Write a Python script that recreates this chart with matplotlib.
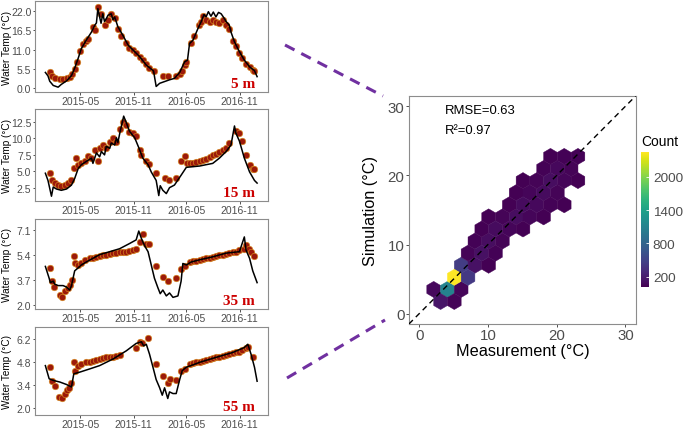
import numpy as np
import pandas as pd
import matplotlib
matplotlib.use('Agg')
import matplotlib.pyplot as plt
import matplotlib.dates as mdates
from matplotlib.lines import Line2D
from matplotlib.ticker import FixedLocator, FormatStrFormatter

plt.rcParams['font.family'] = ['Liberation Sans', 'DejaVu Sans']

# 1. Time series data
# ---- 5 m ----
sim5_dates = ['2015-01-01', '2015-01-10', '2015-01-16', '2015-01-28', '2015-02-14', '2015-02-25',
              '2015-03-15', '2015-04-01', '2015-04-12', '2015-04-24', '2015-05-05', '2015-05-22',
              '2015-06-09', '2015-06-20', '2015-06-26', '2015-07-01', '2015-07-07', '2015-07-12',
              '2015-07-18', '2015-07-24', '2015-07-30', '2015-08-05', '2015-08-16', '2015-08-22',
              '2015-08-28', '2015-09-08', '2015-09-25', '2015-10-13', '2015-10-30', '2015-11-22',
              '2015-12-15', '2016-01-09', '2016-01-18', '2016-01-30', '2016-02-16', '2016-03-04',
              '2016-03-21', '2016-04-08', '2016-04-25', '2016-05-05', '2016-05-12', '2016-05-24',
              '2016-06-10', '2016-06-21', '2016-07-01', '2016-07-08', '2016-07-16', '2016-07-25',
              '2016-08-02', '2016-08-11', '2016-08-20', '2016-08-29', '2016-09-08', '2016-09-15',
              '2016-09-26', '2016-10-02', '2016-10-14', '2016-10-31', '2016-11-17', '2016-12-05',
              '2016-12-22', '2016-12-31']
sim5 = [4.5, 3.5, 2.0, 0.8, 0.3, 1.1,
        2.1, 3.6, 5.7, 8.5, 11.3, 13.7,
        16.0, 17.9, 18.6, 22.7, 20.3, 18.5,
        21.2, 19.0, 19.8, 20.8, 21.2, 19.5,
        20.3, 17.5, 15.1, 12.3, 10.9, 9.0,
        6.6, 4.9, 0.5, 1.4, 1.9, 2.4,
        2.8, 4.5, 7.5, 8.0, 12.7, 13.7,
        17.0, 18.9, 21.0, 20.3, 21.8, 20.5,
        21.7, 20.3, 21.6, 21.2, 20.0, 19.0,
        18.0, 16.0, 13.2, 10.4, 8.0, 6.1,
        5.0, 3.3]
obs5_dates = ['2015-01-16', '2015-01-25', '2015-02-02', '2015-02-20', '2015-03-03', '2015-03-15',
              '2015-03-26', '2015-04-04', '2015-04-12', '2015-04-20', '2015-04-29', '2015-05-11',
              '2015-05-20', '2015-05-28', '2015-06-14', '2015-06-22', '2015-07-01', '2015-07-13',
              '2015-07-24', '2015-08-05', '2015-08-16', '2015-08-28', '2015-09-08', '2015-09-20',
              '2015-10-07', '2015-10-18', '2015-10-30', '2015-11-10', '2015-11-22', '2015-12-03',
              '2015-12-15', '2015-12-26', '2016-01-12', '2016-02-10', '2016-02-27', '2016-03-27',
              '2016-04-08', '2016-04-17', '2016-04-25', '2016-05-01', '2016-05-18', '2016-05-29',
              '2016-06-13', '2016-06-21', '2016-06-29', '2016-07-08', '2016-07-20', '2016-07-31',
              '2016-08-11', '2016-08-23', '2016-09-04', '2016-09-15', '2016-09-26', '2016-10-08',
              '2016-10-19', '2016-10-29', '2016-11-09', '2016-11-23', '2016-12-05', '2016-12-16',
              '2016-12-22']
obs5 = [4.5, 3.5, 3.0, 2.5, 2.5, 2.8,
        3.2, 4.0, 5.5, 7.5, 10.5, 12.5,
        13.5, 14.0, 17.5, 16.5, 23.0, 21.0,
        18.0, 19.5, 21.0, 20.0, 17.0, 15.0,
        13.0, 11.5, 11.0, 10.0, 9.0, 8.0,
        6.8, 5.8, 4.8, 3.5, 3.5, 3.5,
        4.0, 5.0, 6.5, 7.5, 13.0, 15.0,
        18.0, 19.0, 20.5, 19.5, 19.0, 19.5,
        19.0, 18.5, 19.5, 18.0, 17.0, 13.5,
        12.0, 10.0, 8.5, 7.0, 6.0, 5.3,
        5.0]

# ---- 15 m ----
sim15_dates = ['2015-01-01', '2015-01-10', '2015-01-22', '2015-01-28', '2015-02-08', '2015-02-25',
               '2015-03-15', '2015-04-01', '2015-04-12', '2015-04-24', '2015-05-05', '2015-05-22',
               '2015-06-09', '2015-06-14', '2015-06-26', '2015-07-07', '2015-07-13', '2015-07-24',
               '2015-07-30', '2015-08-11', '2015-08-16', '2015-08-28', '2015-09-03', '2015-09-08',
               '2015-09-16', '2015-09-28', '2015-10-07', '2015-10-18', '2015-11-05', '2015-11-19',
               '2015-12-03', '2015-12-21', '2016-01-01', '2016-01-18', '2016-01-27', '2016-02-01',
               '2016-02-10', '2016-02-22', '2016-03-04', '2016-03-21', '2016-04-13', '2016-05-01',
               '2016-05-24', '2016-06-16', '2016-07-08', '2016-07-31', '2016-08-23', '2016-09-15',
               '2016-10-02', '2016-10-14', '2016-10-19', '2016-10-31', '2016-11-17', '2016-12-05',
               '2016-12-22', '2016-12-31']
sim15 = [4.7, 3.6, 1.2, 2.6, 2.3, 2.1,
         2.3, 2.9, 3.9, 5.4, 6.0, 6.5,
         7.0, 6.2, 7.8, 7.2, 8.0, 7.5,
         8.8, 8.5, 9.3, 9.0, 10.1, 9.4,
         11.1, 13.4, 12.4, 11.1, 10.1, 8.6,
         7.0, 6.0, 4.9, 3.6, 1.3, 2.8,
         2.1, 1.6, 2.5, 2.9, 4.4, 5.6,
         5.7, 5.8, 6.0, 6.2, 7.0, 8.0,
         9.0, 11.9, 10.8, 9.6, 7.0, 4.9,
         3.6, 3.2]
obs15_dates = ['2015-01-16', '2015-01-25', '2015-02-02', '2015-02-14', '2015-02-25', '2015-03-09',
               '2015-03-20', '2015-04-01', '2015-04-09', '2015-04-18', '2015-04-24', '2015-05-05',
               '2015-05-16', '2015-05-28', '2015-06-09', '2015-06-20', '2015-07-01', '2015-07-07',
               '2015-07-18', '2015-07-30', '2015-08-11', '2015-08-22', '2015-09-03', '2015-09-14',
               '2015-09-25', '2015-10-07', '2015-10-18', '2015-10-30', '2015-11-10', '2015-11-22',
               '2015-11-28', '2015-12-15', '2015-12-26', '2016-01-18', '2016-02-16', '2016-03-02',
               '2016-03-27', '2016-04-13', '2016-04-28', '2016-05-03', '2016-05-12', '2016-05-24',
               '2016-06-05', '2016-06-16', '2016-06-29', '2016-07-08', '2016-07-20', '2016-07-31',
               '2016-08-11', '2016-08-23', '2016-09-04', '2016-09-15', '2016-09-26', '2016-10-19',
               '2016-10-29', '2016-11-09', '2016-11-23', '2016-12-05', '2016-12-16', '2016-12-22']
obs15 = [4.7, 3.6, 3.2, 2.9, 2.8, 2.9,
         3.2, 3.6, 5.5, 7.0, 6.0, 6.2,
         6.5, 7.3, 7.0, 8.3, 6.5, 8.5,
         9.0, 8.5, 9.5, 10.0, 9.5, 11.5,
         12.5, 12.1, 11.0, 10.9, 10.3, 8.3,
         7.5, 6.5, 6.1, 4.7, 3.9, 3.6,
         3.9, 6.5, 7.4, 6.2, 6.2, 6.2,
         6.4, 6.5, 6.7, 6.8, 7.2, 7.5,
         7.7, 8.0, 8.3, 8.5, 9.3, 11.1,
         10.8, 9.6, 7.5, 6.0, 5.4, 5.3]

# ---- 35 m ----
sim35_dates = ['2015-01-01', '2015-01-14', '2015-01-18', '2015-01-28', '2015-02-02', '2015-02-14',
               '2015-03-03', '2015-03-15', '2015-03-26', '2015-04-01', '2015-04-12', '2015-04-24',
               '2015-05-05', '2015-05-22', '2015-06-14', '2015-07-07', '2015-08-11', '2015-09-14',
               '2015-10-18', '2015-11-10', '2015-11-19', '2015-11-28', '2015-12-09', '2015-12-21',
               '2016-01-01', '2016-01-12', '2016-01-24', '2016-02-01', '2016-02-10', '2016-02-22',
               '2016-03-04', '2016-03-16', '2016-04-02', '2016-04-13', '2016-04-19', '2016-05-01',
               '2016-05-18', '2016-06-16', '2016-07-31', '2016-09-15', '2016-10-31', '2016-11-17',
               '2016-11-23', '2016-12-05', '2016-12-16', '2016-12-31']
sim35 = [4.6, 3.8, 3.5, 3.6, 3.4, 3.3,
         3.3, 3.2, 3.0, 3.3, 4.3, 4.5,
         4.7, 4.9, 5.15, 5.4, 5.6, 5.8,
         6.15, 6.4, 7.0, 6.5, 6.0, 5.6,
         4.7, 3.8, 3.15, 2.75, 3.0, 2.6,
         2.8, 2.5, 2.6, 3.6, 4.8, 4.7,
         4.9, 5.05, 5.25, 5.5, 5.6, 6.6,
         5.7, 5.15, 4.3, 3.5]
obs35_dates = ['2015-01-16', '2015-01-25', '2015-01-30', '2015-02-20', '2015-03-01', '2015-03-09',
               '2015-03-20', '2015-03-26', '2015-04-04', '2015-04-09', '2015-04-12', '2015-04-24',
               '2015-05-05', '2015-05-16', '2015-06-03', '2015-06-14', '2015-06-26', '2015-07-07',
               '2015-07-18', '2015-07-30', '2015-08-11', '2015-08-22', '2015-09-03', '2015-09-14',
               '2015-09-25', '2015-10-07', '2015-10-18', '2015-10-30', '2015-11-10', '2015-11-22',
               '2015-12-03', '2015-12-15', '2015-12-26', '2016-01-18', '2016-02-10', '2016-02-27',
               '2016-03-27', '2016-04-13', '2016-04-25', '2016-05-12', '2016-05-24', '2016-06-05',
               '2016-06-16', '2016-06-29', '2016-07-08', '2016-07-20', '2016-07-31', '2016-08-11',
               '2016-08-23', '2016-09-04', '2016-09-15', '2016-09-26', '2016-10-08', '2016-10-19',
               '2016-10-31', '2016-11-17', '2016-11-23', '2016-12-02', '2016-12-10', '2016-12-22']
obs35 = [4.5, 3.6, 3.2, 2.65, 2.5, 2.9,
         3.15, 3.35, 3.7, 5.3, 4.8, 4.7,
         4.8, 5.05, 5.15, 5.2, 5.25, 5.3,
         5.35, 5.4, 5.45, 5.5, 5.5, 5.55,
         5.6, 5.6, 5.65, 5.7, 5.75, 6.25,
         6.8, 6.15, 6.15, 4.65, 3.9, 3.6,
         3.8, 4.4, 4.6, 4.9, 4.95, 5.0,
         5.05, 5.1, 5.15, 5.2, 5.25, 5.3,
         5.35, 5.4, 5.45, 5.5, 5.55, 5.6,
         5.7, 5.8, 6.05, 5.8, 5.6, 5.3]

# ---- 55 m ----
sim55_dates = ['2015-01-01', '2015-01-14', '2015-01-28', '2015-02-20', '2015-03-15', '2015-04-01',
               '2015-04-09', '2015-04-29', '2015-06-03', '2015-07-07', '2015-08-22', '2015-10-07',
               '2015-11-10', '2015-11-28', '2015-12-06', '2015-12-15', '2015-12-26', '2016-01-07',
               '2016-01-18', '2016-01-30', '2016-02-08', '2016-02-16', '2016-02-27', '2016-03-04',
               '2016-03-16', '2016-03-27', '2016-04-08', '2016-04-17', '2016-05-01', '2016-06-16',
               '2016-08-11', '2016-10-08', '2016-11-17', '2016-11-29', '2016-12-10', '2016-12-22',
               '2016-12-31']
sim55 = [4.6, 3.8, 3.7, 3.6, 3.45, 3.3,
         4.1, 4.2, 4.4, 4.6, 5.0, 5.5,
         5.95, 6.05, 5.8, 5.9, 5.3, 4.5,
         3.75, 3.25, 2.8, 3.25, 2.6, 3.0,
         2.9, 2.9, 3.75, 4.3, 4.5, 4.8,
         5.1, 5.4, 5.7, 5.9, 5.3, 4.5,
         3.65]
obs55_dates = ['2015-01-16', '2015-01-25', '2015-02-02', '2015-02-17', '2015-03-01', '2015-03-09',
               '2015-03-15', '2015-03-24', '2015-04-01', '2015-04-09', '2015-04-12', '2015-04-24',
               '2015-05-05', '2015-05-22', '2015-06-03', '2015-06-14', '2015-06-26', '2015-07-07',
               '2015-07-18', '2015-07-30', '2015-08-11', '2015-08-22', '2015-09-03', '2015-09-14',
               '2015-11-10', '2015-11-22', '2015-12-01', '2015-12-21', '2016-01-18', '2016-02-10',
               '2016-02-27', '2016-03-04', '2016-03-27', '2016-04-13', '2016-04-25', '2016-05-12',
               '2016-05-24', '2016-06-05', '2016-06-16', '2016-06-29', '2016-07-08', '2016-07-20',
               '2016-07-31', '2016-08-11', '2016-08-23', '2016-09-04', '2016-09-15', '2016-09-26',
               '2016-10-08', '2016-10-19', '2016-10-31', '2016-11-09', '2016-11-23', '2016-11-29',
               '2016-12-16']
obs55 = [4.5, 3.65, 3.35, 2.7, 2.6, 2.9,
         3.1, 3.25, 3.55, 4.8, 4.25, 4.6,
         4.7, 4.8, 4.85, 4.9, 4.95, 5.0,
         5.05, 5.1, 5.1, 5.15, 5.2, 5.25,
         5.7, 6.05, 5.95, 6.25, 4.7, 3.95,
         3.55, 3.8, 3.75, 4.25, 4.4, 4.7,
         4.75, 4.8, 4.85, 4.9, 4.95, 5.0,
         5.05, 5.1, 5.15, 5.2, 5.25, 5.3,
         5.35, 5.4, 5.45, 5.55, 5.7, 5.75,
         5.1]

depth_labels = ['5 m', '15 m', '35 m', '55 m']
date_ticks = ['2015-05-01', '2015-11-01', '2016-05-01', '2016-11-01']

# 2. Hexbin summary (bin centres, counts)
hex_meas = [3.1, 5.1,
            2.1, 4.1, 6.1,
            5.1, 7.1,
            6.1, 8.1, 10.1,
            7.1, 9.1, 11.1,
            8.1, 10.1, 12.1,
            9.1, 11.1, 13.1, 15.1,
            10.1, 12.1, 14.1, 16.1, 18.1,
            13.1, 15.1, 17.1, 19.1, 21.1,
            14.1, 16.1, 18.1, 20.1,
            15.1, 17.1, 19.1, 21.1, 23.1,
            18.1, 20.1, 22.1,
            19.1, 21.1, 23.1]
hex_sim = [1.75, 1.75,
           3.5, 3.5, 3.5,
           5.25, 5.25,
           7.0, 7.0, 7.0,
           8.75, 8.75, 8.75,
           10.5, 10.5, 10.5,
           12.25, 12.25, 12.25, 12.25,
           14.0, 14.0, 14.0, 14.0, 14.0,
           15.75, 15.75, 15.75, 15.75, 15.75,
           17.5, 17.5, 17.5, 17.5,
           19.25, 19.25, 19.25, 19.25, 19.25,
           21.0, 21.0, 21.0,
           22.75, 22.75, 22.75]
hex_count = [150, 40,
             60, 1100, 50,
             2450, 420,
             450, 120, 20,
             40, 110, 30,
             30, 90, 40,
             20, 80, 50, 15,
             15, 40, 90, 45, 12,
             20, 80, 60, 30, 12,
             15, 50, 80, 40,
             12, 40, 90, 45, 12,
             30, 60, 40,
             20, 30, 25]
rmse = 0.63
r2 = 0.97

# 3. Figure
fig = plt.figure(figsize=(6.85, 4.31), dpi=100)

left_rects = [[0.051, 0.784, 0.340, 0.211],
              [0.051, 0.531, 0.340, 0.214],
              [0.051, 0.280, 0.340, 0.209],
              [0.051, 0.035, 0.340, 0.204]]
ylims = [(-1.1, 24.8), (0.45, 14.5), (1.69, 7.8), (1.6, 6.95)]
yticks = [[0.0, 5.5, 11.0, 16.5, 22.0], [2.5, 5.0, 7.5, 10.0, 12.5],
          [2.0, 3.7, 5.4, 7.1], [2.0, 3.4, 4.8, 6.2]]
series = [(sim5_dates, sim5, obs5_dates, obs5),
          (sim15_dates, sim15, obs15_dates, obs15),
          (sim35_dates, sim35, obs35_dates, obs35),
          (sim55_dates, sim55, obs55_dates, obs55)]

for i, (sd, sv, od, ov) in enumerate(series):
    ax = fig.add_axes(left_rects[i])
    ax.scatter(pd.to_datetime(od), ov, s=22, c='#9c1a0a', edgecolors='#d98c1f',
               linewidths=0.45, zorder=2)
    ax.plot(pd.to_datetime(sd), sv, color='black', lw=1.1, zorder=3)
    ax.set_xlim(pd.Timestamp('2014-11-26'), pd.Timestamp('2017-02-06'))
    ax.set_ylim(*ylims[i])
    ax.set_yticks(yticks[i])
    ax.yaxis.set_major_formatter(FormatStrFormatter('%.1f'))
    ax.xaxis.set_major_locator(FixedLocator(mdates.date2num(pd.to_datetime(date_ticks))))
    ax.xaxis.set_major_formatter(mdates.DateFormatter('%Y-%m'))
    ax.tick_params(labelsize=7.5, labelcolor='#4d4d4d', color='#333333',
                   length=1.8, width=0.6, pad=0.8)
    for s in ax.spines.values():
        s.set_color('#8c8c8c')
        s.set_linewidth(0.8)
    ax.set_ylabel('Water Temp (°C)', fontsize=7.2)
    ax.yaxis.set_label_coords(-0.098, 0.5)
    ax.text(0.945, 0.06, depth_labels[i], transform=ax.transAxes, ha='right',
            va='baseline', fontsize=11, fontweight='bold',
            family='Liberation Serif', color='#cc0000')

# 4. Hexbin scatter measurement vs simulation
ax = fig.add_axes([0.597, 0.246, 0.331, 0.529])
hb = ax.hexbin(hex_meas, hex_sim, C=hex_count, reduce_C_function=np.sum,
               gridsize=(15, 9), extent=(0.1, 30.1, 0.0, 31.5), cmap='viridis',
               mincnt=1, edgecolors='face', linewidths=0.3, zorder=2)
ax.axline((0, 0), slope=1, color='black', lw=1.0, ls=(0, (4, 3)), zorder=3)
ax.set_xlim(-1.5, 31.5)
ax.set_ylim(-1.5, 31.5)
ax.set_xticks([0, 10, 20, 30])
ax.set_yticks([0, 10, 20, 30])
ax.tick_params(labelsize=10.8, labelcolor='#4d4d4d', color='#333333',
               length=2.0, width=0.6, pad=1.2)
for s in ax.spines.values():
    s.set_color('#8c8c8c')
    s.set_linewidth(0.8)
ax.set_xlabel('Measurement (°C)', fontsize=11.7)
ax.xaxis.set_label_coords(0.5, -0.082)
ax.set_ylabel('Simulation (°C)', fontsize=11.7)
ax.yaxis.set_label_coords(-0.135, 0.5)
ax.text(3.8, 29.4, f'RMSE={rmse:.2f}', fontsize=9.4, va='center')
ax.text(3.8, 26.6, f'R²={r2:.2f}', fontsize=9.4, va='center')

cax = fig.add_axes([0.936, 0.332, 0.011, 0.313])
cb = fig.colorbar(hb, cax=cax, ticks=[200, 800, 1400, 2000])
cb.outline.set_visible(False)
cax.tick_params(labelsize=9.7, labelcolor='#4d4d4d', color='white',
                direction='in', length=2.5, width=0.6, pad=3)
cax.set_title('Count', loc='left', fontsize=10, pad=5)

# 5. Dashed connectors from the panels to the scatter plot
conn_kw = dict(transform=fig.transFigure, color='#7030a0', lw=2.2, ls=(0, (3.5, 2.5)))
fig.add_artist(Line2D([285 / 685, 383 / 685], [1 - 46 / 431, 1 - 97 / 431], **conn_kw))
fig.add_artist(Line2D([287 / 685, 385 / 685], [1 - 379 / 431, 1 - 321 / 431], **conn_kw))

plt.savefig('out.png', dpi=100)
